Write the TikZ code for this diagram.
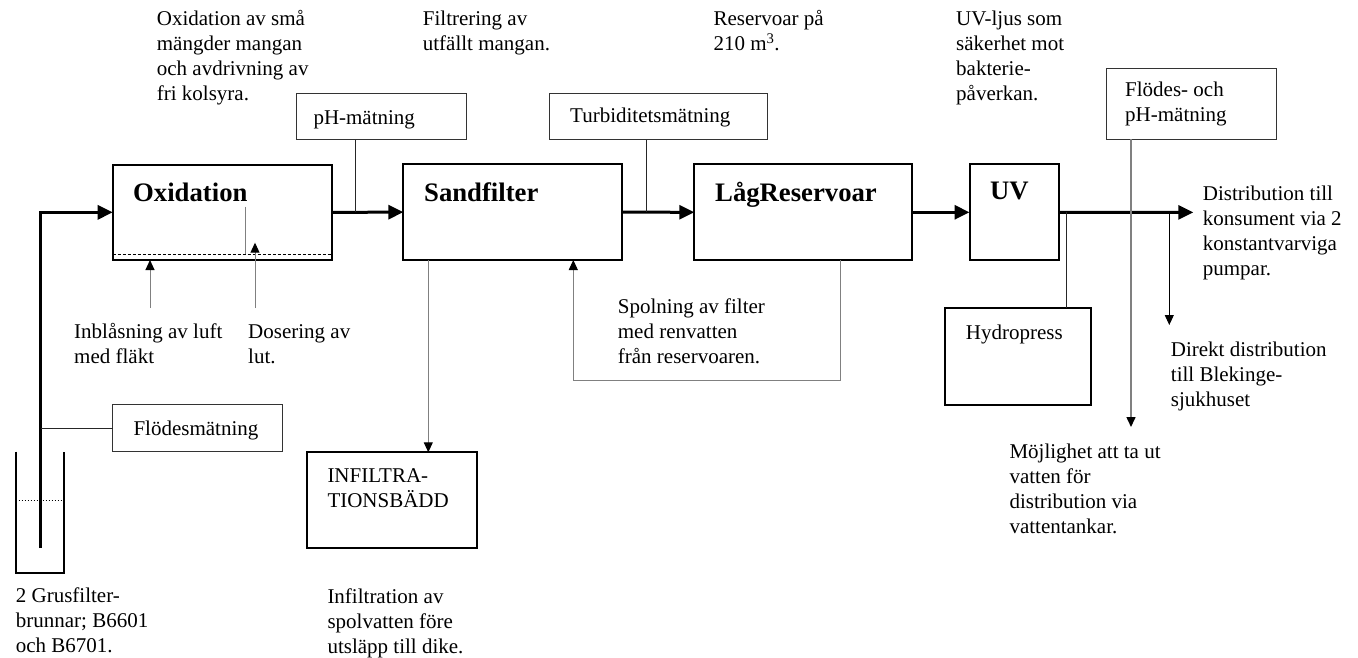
\documentclass[tikz,border=0pt]{standalone}
\usepackage{fontspec}
\setmainfont{Liberation Serif}
\usetikzlibrary{arrows.meta}

\begin{document}
\begin{tikzpicture}[x=1pt,y=-1pt,
		txt/.style={anchor=base west,inner sep=0pt,align=left,font=\fontsize{21}{25}\selectfont},
		head/.style={anchor=base west,inner sep=0pt,font=\fontsize{26.7}{30}\selectfont\bfseries},
		stage/.style={draw,line width=2pt,anchor=north west,inner sep=0pt,outer sep=0pt},
		meter/.style={draw=black!80,line width=1pt,anchor=north west,inner sep=0pt,outer sep=0pt},
		flow/.style={line width=3pt,-{Triangle[length=15pt,width=14pt]}},
		feed/.style={draw=black!50,line width=1pt},
		tap/.style={draw=black!50,line width=1pt,-{Triangle[length=10pt,width=9pt,color=black]}},
		wire/.style={draw=black!85,line width=1pt}]
	\useasboundingbox (0,0) rectangle (1358,658);

	\node[stage,minimum width=219pt,minimum height=95.3pt] (oxid) at (112.7,164.7) {};
	\node[stage,minimum width=218.7pt,minimum height=95.7pt] (sand) at (403.3,164.3) {};
	\node[stage,minimum width=218pt,minimum height=96pt] (lag) at (694.3,164.3) {};
	\node[stage,minimum width=89pt,minimum height=96pt] (uv) at (969.5,164.3) {};
	\node[stage,minimum width=170pt,minimum height=96pt] (infil) at (306.7,452.3) {};
	\node[stage,minimum width=146pt,minimum height=96.7pt] (hydro) at (945,308.3) {};
	\node[meter,minimum width=169.3pt,minimum height=46.7pt] (ph) at (296.7,93.3) {};
	\node[meter,minimum width=218pt,minimum height=46.7pt] (turb) at (549.3,93.3) {};
	\node[meter,minimum width=170pt,minimum height=47.4pt] (flodes) at (112.7,404.3) {};
	\node[meter,minimum width=170.2pt,minimum height=71.2pt] (flph) at (1106.3,68.3) {};

	\node[head] (oxidtxt) at (133,201) {Oxidation};
	\node[head] (sandtxt) at (424,201) {Sandfilter};
	\node[head] (lagtxt) at (715,201) {LågReservoar};
	\node[head] (uvtxt) at (990,200) {UV};
	\node[txt] (infiltxt) at (327.3,507.5) {INFILTRA-\\TIONSBÄDD};
	\node[txt] (hydrotxt) at (965.7,339.3) {Hydropress};
	\node[txt] (phtxt) at (313.3,125) {pH-mätning};
	\node[txt] (turbtxt) at (570,123) {Turbiditetsmätning};
	\node[txt] (flodestxt) at (133.3,435) {Flödesmätning};
	\node[txt] (flphtxt) at (1125,121.7) {Flödes- och\\pH-mätning};

	\node[txt] (oxidnote) at (156.7,101) {Oxidation av små\\mängder mangan\\och avdrivning av\\fri kolsyra.};
	\node[txt] (sandnote) at (422.7,51) {Filtrering av\\utfällt mangan.};
	\node[txt] (lagnote) at (713.3,51) {Reservoar på\\210 m\textsuperscript{3}.};
	\node[txt] (uvnote) at (956,101) {UV-ljus som\\säkerhet mot\\bakterie-\\påverkan.};
	\node[txt] (airnote) at (74,363.3) {Inblåsning av luft\\med fläkt};
	\node[txt] (dosnote) at (248,363.3) {Dosering av\\lut.};
	\node[txt] (rinsenote) at (617.7,363.3) {Spolning av filter\\med renvatten\\från reservoaren.};
	\node[txt] (distnote) at (1202.7,275.7) {Distribution till\\konsument via 2\\konstantvarviga\\pumpar.};
	\node[txt] (sjhnote) at (1170.7,406.7) {Direkt distribution\\till Blekinge-\\sjukhuset};
	\node[txt] (tanknote) at (1009.3,533.3) {Möjlighet att ta ut\\vatten för\\distribution via\\vattentankar.};
	\node[txt] (wellnote) at (15.7,652.7) {2 Grusfilter-\\brunnar; B6601\\och B6701.};
	\node[txt] (infilnote) at (327.3,653.3) {Infiltration av\\spolvatten före\\utsläpp till dike.};

	\coordinate (pipe) at (40.7,548);
	\coordinate (lvlw) at (112.7,254.3);
	\coordinate (lvle) at (331.7,254.3);
	\coordinate (lance) at (245,206.7);
	\coordinate (air) at (150,308);
	\coordinate (dos) at (255,308);
	\coordinate (phtap) at (355.7,212.4);
	\coordinate (turbtap) at (646.7,212.4);
	\coordinate (drain) at (428.3,260);
	\coordinate (rinse) at (840.5,380);
	\coordinate (back) at (573.3,380);
	\coordinate (dist) at (1193.3,212.4);
	\coordinate (hyd) at (1066.7,212.4);
	\coordinate (tank) at (1131,427);
	\coordinate (sjh) at (1169.3,325);

	\draw[line width=2pt] (15.7,451.7) |- (64.3,572.7) -- (64.3,451.7);
	\draw[dotted,line width=1pt] (15.7,500) -- (64.3,500);
	\draw[flow] (pipe) |- (oxid.west);
	\draw[wire] (pipe |- flodes.west) -- (flodes.west);

	\draw[densely dashed,line width=.8pt] (lvlw) -- (lvle);
	\draw[feed] (lance) -- (lance |- lvlw);
	\draw[tap] (air) -- (air |- oxid.south);
	\draw[tap] (dos) -- ([yshift=11.6pt]dos |- lvlw);

	\draw[flow] (oxid.east) -- (sand.west);
	\draw[flow] (sand.east) -- (lag.west);
	\draw[flow] (lag.east) -- (uv.west);
	\draw[flow] (uv.east) -- (dist);
	\draw[wire] (ph.south -| phtap) -- (phtap);
	\draw[wire] (turb.south -| turbtap) -- (turbtap);

	\draw[tap] (drain) -- (drain |- infil.north);
	\draw[tap] (rinse |- lag.south) -- (rinse) -- (back) -- (back |- sand.south);

	\draw[wire] (hyd) -- (hyd |- hydro.north);
	\draw[tap,line width=1.5pt] (tank |- flph.south) -- (tank);
	\draw[tap,draw=black] (sjh |- dist) -- (sjh);
\end{tikzpicture}
\end{document}
